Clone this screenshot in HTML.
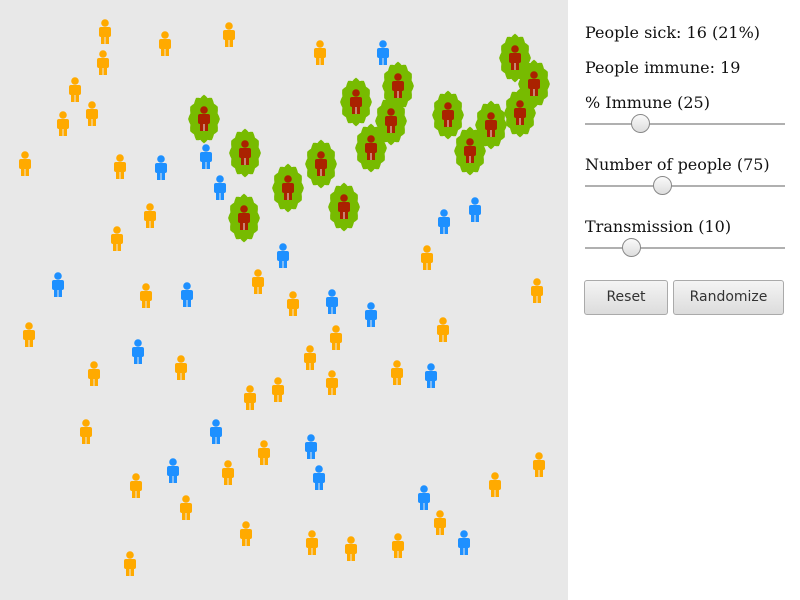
<!DOCTYPE html>
<html><head><meta charset="utf-8"><style>
body{margin:0;width:800px;height:600px;overflow:hidden;background:#fff;font-family:"DejaVu Serif","Liberation Serif",serif;}
#sim{position:absolute;left:0;top:0;width:568px;height:600px;background:#e8e8e8;}
.t{position:absolute;left:585px;font-size:16px;color:#111;white-space:nowrap;}
.track{position:absolute;left:585px;width:200px;height:2px;background:#b0b0b0;}
.thumb{position:absolute;width:17px;height:17px;border-radius:50%;background:linear-gradient(#fafafa,#ddd);border:1px solid #888;top:-9px;}
.btn{position:absolute;top:280px;height:33px;border:1px solid #aaa;border-radius:3px;background:linear-gradient(#f4f4f4,#dcdcdc);font-family:"DejaVu Sans","Liberation Sans",sans-serif;font-size:14px;color:#333;text-align:center;line-height:33px;}
</style></head><body>
<svg id="sim" width="568" height="600"></svg>
<div class="t" style="top:23px">People sick: 16 (21%)</div>
<div class="t" style="top:58px">People immune: 19</div>
<div class="t" style="top:93px">% Immune (25)</div>
<div class="track" style="top:123px"><div class="thumb" style="left:46px"></div></div>
<div class="t" style="top:155px">Number of people (75)</div>
<div class="track" style="top:185px"><div class="thumb" style="left:68px"></div></div>
<div class="t" style="top:217px">Transmission (10)</div>
<div class="track" style="top:247px"><div class="thumb" style="left:37px"></div></div>
<div class="btn" style="left:584px;width:82px">Reset</div>
<div class="btn" style="left:673px;width:109px">Randomize</div>
<script>
const healthyX=[105,165,229,320,103,75,92,63,25,120,150,117,427,258,537,146,293,29,336,443,310,94,181,397,332,278,250,86,264,228,136,186,539,495,440,246,312,351,398,130];
const healthyY=[32,44,35,53,63,90,114,124,164,167,216,239,258,282,291,296,304,335,338,330,358,374,368,373,383,390,398,432,453,473,486,508,465,485,523,534,543,549,546,564];
const immuneX=[383,161,206,220,475,444,283,58,187,332,371,138,431,216,311,173,319,424,464];
const immuneY=[53,168,157,188,210,222,256,285,295,302,315,352,376,432,447,471,478,498,543];
const sickX=[204,245,288,244,321,344,356,398,391,371,448,470,491,515,534,520];
const sickY=[119,153,188,218,164,207,102,86,121,148,115,151,125,58,84,113];
const NS="http://www.w3.org/2000/svg";
const svg=document.getElementById('sim');
function mk(tag,a){const e=document.createElementNS(NS,tag);for(const k in a)e.setAttribute(k,a[k]);return e;}
function person(x,y,col,name){
  const g=mk('g',{fill:col});
  
  
  g.appendChild(mk('circle',{cx:x,cy:y-9,r:3.8}));
  g.appendChild(mk('rect',{x:x-6,y:y-5,width:12,height:10,rx:2}));
  g.appendChild(mk('rect',{x:x-4,y:y-5,width:8,height:17}));
  g.appendChild(mk('rect',{x:x-0.5,y:y+5,width:1,height:7,fill:'#e8e8e8'}));
  svg.appendChild(g);
}
function halo(x,y){
  let pts=[];
  for(let i=0;i<48;i++){const a=i/48*Math.PI*2;const m=1+0.06*Math.cos(a*12);pts.push((x+15*m*Math.cos(a)).toFixed(1)+','+(y+23*m*Math.sin(a)).toFixed(1));}
  const p=mk('polygon',{points:pts.join(' '),fill:'#77bb00'});
  
  
  svg.appendChild(p);
}
for(let i=0;i<sickX.length;i++)halo(sickX[i],sickY[i]);
for(let i=0;i<healthyX.length;i++)person(healthyX[i],healthyY[i],'#ffaa00','healthy-person');
for(let i=0;i<immuneX.length;i++)person(immuneX[i],immuneY[i],'#1e90ff','immune-person');
for(let i=0;i<sickX.length;i++)person(sickX[i],sickY[i],'#aa2200','sick-person');
</script>
</body></html>
